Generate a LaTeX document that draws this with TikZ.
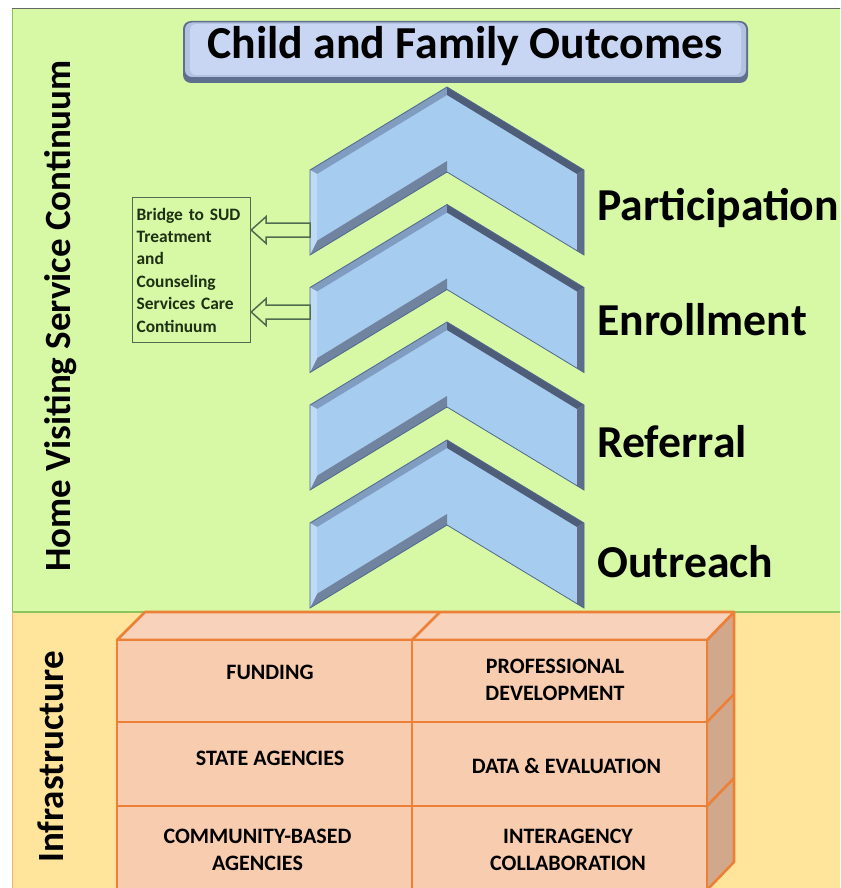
\documentclass[tikz,border=0pt]{standalone}
\usepackage{fontspec}
\setmainfont{Carlito}
\usetikzlibrary{calc}
\definecolor{bggreen}{RGB}{215,248,165}
\definecolor{bgorange}{RGB}{255,228,155}
\definecolor{greenline}{RGB}{140,195,95}
\definecolor{chevfill}{RGB}{166,204,240}
\definecolor{bevTL}{RGB}{128,156,192}
\definecolor{bevTR}{RGB}{78,94,120}
\definecolor{bevR}{RGB}{95,110,136}
\definecolor{bevIL}{RGB}{112,132,160}
\definecolor{bevL}{RGB}{190,218,245}
\definecolor{chevline}{RGB}{80,105,140}
\definecolor{titlefill}{RGB}{200,214,244}
\definecolor{titledark}{RGB}{95,112,142}
\definecolor{cellfill}{RGB}{248,204,174}
\definecolor{topfill}{RGB}{248,210,186}
\definecolor{sidefill}{RGB}{210,168,140}
\definecolor{orangeline}{RGB}{237,128,55}
\definecolor{bridgeline}{RGB}{80,108,80}
\definecolor{bridgetext}{RGB}{30,48,20}
\newcommand\drawchev[2]{%
  \pgfmathsetmacro\cb{#2}%
  \coordinate (#1-o1) at (310,\cb-85);
  \coordinate (#1-o2) at (447,\cb-168);
  \coordinate (#1-o3) at (584,\cb-85);
  \coordinate (#1-o4) at (584,\cb);
  \coordinate (#1-o5) at (447,\cb-83);
  \coordinate (#1-o6) at (310,\cb);
  \coordinate (#1-i1) at (317,\cb-81);
  \coordinate (#1-i2) at (447,\cb-160);
  \coordinate (#1-i3) at (577,\cb-81);
  \coordinate (#1-i4) at (577,\cb-4.2);
  \coordinate (#1-i5) at (447,\cb-94);
  \coordinate (#1-i6) at (317,\cb-14.2);
  \fill[chevfill] (#1-o1)--(#1-o2)--(#1-o3)--(#1-o4)--(#1-o5)--(#1-o6)--cycle;
  \fill[bevTL] (#1-o1)--(#1-o2)--(#1-i2)--(#1-i1)--cycle;
  \fill[bevTR] (#1-o2)--(#1-o3)--(#1-i3)--(#1-i2)--cycle;
  \fill[bevR] (#1-o3)--(#1-o4)--(#1-i4)--(#1-i3)--cycle;
  \fill[bevIL] (#1-o5)--(#1-o6)--(#1-i6)--(#1-i5)--cycle;
  \fill[bevL] (#1-o6)--(#1-o1)--(#1-i1)--(#1-i6)--cycle;
  \draw[chevline,line width=0.8pt,line join=miter] (#1-o1)--(#1-o2)--(#1-o3)--(#1-o4)--(#1-o5)--(#1-o6)--cycle;
}
\tikzset{
  stagelabel/.style={anchor=base west,inner sep=0pt,font=\bfseries\fontsize{45.7}{50}\selectfont},
  sidelabel/.style={rotate=90,inner sep=0pt,font=\bfseries\fontsize{37}{42}\selectfont},
  celltext/.style={align=center,inner sep=0pt,font=\bfseries\fontsize{22}{27.5}\selectfont},
  cellbox/.style={fill=cellfill,draw=orangeline,line width=2.6pt},
  openarrow/.style={fill=bggreen,draw=bridgeline,line width=1.5pt,line join=miter},
}
\begin{document}
\begin{tikzpicture}[x=1pt,y=-1pt]
\useasboundingbox (0,0) rectangle (840,888);
\clip (0,0) rectangle (840,888);
% backgrounds
\fill[white] (0,0) rectangle (840,888);
\fill[bggreen] (12,8.5) rectangle (845,612);
\fill[bgorange] (12,612) rectangle (845,895);
\draw[greenline,line width=1.2pt] (12.5,895) -- (12.5,8.5) -- (845,8.5);
\draw[black!60,line width=0.8pt] (12,8.5) -- (845,8.5);
\draw[greenline,line width=1.5pt] (12,612) -- (845,612);
\draw[orangeline!50!bgorange,line width=1pt] (12.5,612) -- (12.5,895);
% side labels
\node[sidelabel] (hvsc) at (61,316) {Home Visiting Service Continuum};
\node[sidelabel] (infra) at (51,757) {Infrastructure};
% title
\fill[titledark,rounded corners=8pt] (183,21) rectangle (748,83);
\fill[titlefill!80!titledark,rounded corners=7pt] (185,22.5) rectangle (746,77);
\fill[titlefill,rounded corners=6pt] (190,24) rectangle (741,75);
\node[anchor=base,inner sep=0pt,font=\bfseries\fontsize{45.8}{50}\selectfont] (title) at (465,58.5) {Child and Family Outcomes};
% infrastructure block
\fill[sidefill] (707,640) -- (734,612) -- (734,862) -- (707,890) -- cycle;
\draw[orangeline,line width=2.6pt,line join=round] (707,640) -- (734,612) -- (734,862) -- (707,890);
\draw[orangeline,line width=2.6pt] (707,722) -- (734,694) (707,806) -- (734,778);
\filldraw[fill=topfill,draw=orangeline,line width=2.6pt,line join=round] (117,640) -- (145,612) -- (734,612) -- (707,640) -- cycle;
\draw[orangeline,line width=2.6pt] (412,640) -- (440,612);
\draw[cellbox] (117,640) rectangle (412,722);
\draw[cellbox] (412,640) rectangle (707,722);
\draw[cellbox] (117,722) rectangle (412,806);
\draw[cellbox] (412,722) rectangle (707,806);
\draw[cellbox] (117,806) rectangle (412,890);
\draw[cellbox] (412,806) rectangle (707,890);
\node[celltext] (funding) at (270,672) {FUNDING};
\node[celltext] (profdev) at (555,680) {PROFESSIONAL\\DEVELOPMENT};
\node[celltext] (state) at (270,758.5) {STATE AGENCIES};
\node[celltext] (data) at (566.5,766) {DATA \& EVALUATION};
\node[celltext] (community) at (257.5,850) {COMMUNITY-BASED\\AGENCIES};
\node[celltext] (interagency) at (568,850) {INTERAGENCY\\COLLABORATION};
% chevrons
\drawchev{outreach}{608}
\drawchev{referral}{490}
\drawchev{enrollment}{372.5}
\drawchev{participation}{255}
% stage labels
\node[stagelabel] (lpart) at (597,220) {Participation};
\node[stagelabel] (lenrol) at (597,335) {Enrollment};
\node[stagelabel] (lref) at (597,457) {Referral};
\node[stagelabel] (lout) at (597,577) {Outreach};
% bridge box
\node[draw=bridgeline,line width=1.2pt,minimum width=118pt,minimum height=145pt,text width=110pt,align=left,inner sep=3.5pt,anchor=north west,text=bridgetext,font=\bfseries\fontsize{17.4}{22.4}\selectfont] (bridge) at (132,197) {Bridge to SUD\\Treatment\\and\\Counseling\\Services Care\\Continuum};
% open arrows
\coordinate (p1) at (310,230);
\coordinate (p2) at (310,312);
\coordinate (t1) at (bridge.east |- p1);
\coordinate (t2) at (bridge.east |- p2);
\draw[openarrow] (t1) -- ($(t1)+(15,-13.5)$) -- ($(t1)+(15,-7)$) -- ($(p1)+(0,-7)$) -- ($(p1)+(0,7)$) -- ($(t1)+(15,7)$) -- ($(t1)+(15,13.5)$) -- cycle;
\draw[openarrow] (t2) -- ($(t2)+(15,-13.5)$) -- ($(t2)+(15,-7)$) -- ($(p2)+(0,-7)$) -- ($(p2)+(0,7)$) -- ($(t2)+(15,7)$) -- ($(t2)+(15,13.5)$) -- cycle;
\end{tikzpicture}
\end{document}
